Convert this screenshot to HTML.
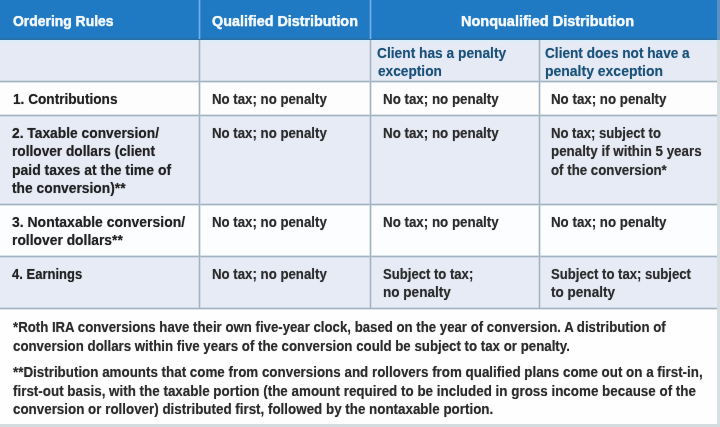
<!DOCTYPE html>
<html><head><meta charset="utf-8">
<style>
*{margin:0;padding:0;box-sizing:border-box}
html,body{width:720px;height:427px;overflow:hidden;background:#fff}
body{position:relative;font-family:"Liberation Sans",Arial,sans-serif}
.bg{position:absolute}
.t{position:absolute;white-space:nowrap;line-height:20px;height:20px;font-weight:bold;transform-origin:0 0}
.h{font-size:14.5px;color:#f4f9fe;-webkit-text-stroke:.25px #f4f9fe;text-shadow:0 0 1px rgba(235,245,255,.7);}
.s{font-size:14.3px;color:#1a5279;text-shadow:0 0 1px rgba(26,82,121,.45);}
.l{font-size:14.2px;color:#222;text-shadow:0 0 1px rgba(34,34,34,.55);}
.d{font-size:14.3px;color:#2c2c2c;text-shadow:0 0 1px rgba(44,44,44,.5);}
.f{font-size:14.3px;color:#2c2c2c;text-shadow:0 0 1px rgba(44,44,44,.5);}
.hl{position:absolute;left:0;width:717px;height:1px;background:#a2b3c0;box-shadow:0 -1px 0 rgba(185,200,212,.5),0 1px 0 rgba(185,200,212,.5)}
.vl{position:absolute;top:40px;width:1px;height:268px;background:#a2b3c0;box-shadow:-1px 0 0 rgba(185,200,212,.45),1px 0 0 rgba(185,200,212,.45)}
</style></head><body>
<div class="bg" style="left:0;top:0;width:720px;height:40px;background:#1f79c3"></div>
<div class="bg" style="left:0;top:40px;width:720px;height:42px;background:#e6eaf5"></div>
<div class="bg" style="left:0;top:82px;width:720px;height:34px;background:#fdfdfe"></div>
<div class="bg" style="left:0;top:116px;width:720px;height:89px;background:#e7ebf6"></div>
<div class="bg" style="left:0;top:205px;width:720px;height:52px;background:#fbfdfe"></div>
<div class="bg" style="left:0;top:257px;width:720px;height:52px;background:#e7ebf6"></div>
<div class="bg" style="left:0;top:309px;width:720px;height:118px;background:#fefefe"></div>
<div class="bg" style="left:0;top:38px;width:717px;height:2px;background:#2870aa"></div>
<div class="bg" style="left:0;top:40px;width:717px;height:2px;background:#d9eef8"></div>
<div class="hl" style="top:81px"></div>
<div class="hl" style="top:115px"></div>
<div class="hl" style="top:204px"></div>
<div class="hl" style="top:256px"></div>
<div class="hl" style="top:308px"></div>
<div class="bg" style="left:199px;top:0;width:1px;height:39px;background:#6eb0e8;box-shadow:-1px 0 0 rgba(80,150,215,.6),1px 0 0 rgba(80,150,215,.6)"></div>
<div class="bg" style="left:370px;top:0;width:1px;height:39px;background:#6eb0e8;box-shadow:-1px 0 0 rgba(80,150,215,.6),1px 0 0 rgba(80,150,215,.6)"></div>
<div class="vl" style="left:199px"></div>
<div class="vl" style="left:370px"></div>
<div class="vl" style="left:539px"></div>
<div class="bg" style="left:717px;top:0;width:3px;height:40px;background:#5a90c4"></div>
<div class="bg" style="left:717px;top:40px;width:3px;height:387px;background:#d8dfe2"></div>
<div class="bg" style="left:0;top:424px;width:720px;height:3px;background:#d5dcdf"></div>

<div class="t h" style="left:12.50px;top:11px;transform:scaleX(0.9594)">Ordering Rules</div>
<div class="t h" style="left:211.80px;top:11px;transform:scaleX(0.9897)">Qualified Distribution</div>
<div class="t h" style="left:461.00px;top:11px;transform:scaleX(0.9990)">Nonqualified Distribution</div>
<div class="t s" style="left:377.30px;top:43px;transform:scaleX(0.9620)">Client has a penalty</div>
<div class="t s" style="left:377.60px;top:61px;transform:scaleX(0.9573)">exception</div>
<div class="t s" style="left:545.20px;top:43px;transform:scaleX(0.9535)">Client does not have a</div>
<div class="t s" style="left:545.20px;top:61px;transform:scaleX(0.9777)">penalty exception</div>
<div class="t l" style="left:13.30px;top:89px;transform:scaleX(0.9609)">1. Contributions</div>
<div class="t d" style="left:211.80px;top:89px;transform:scaleX(0.9262)">No tax; no penalty</div>
<div class="t d" style="left:383.00px;top:89px;transform:scaleX(0.9334)">No tax; no penalty</div>
<div class="t d" style="left:551.00px;top:89px;transform:scaleX(0.9318)">No tax; no penalty</div>
<div class="t l" style="left:12.40px;top:123px;transform:scaleX(0.9725)">2. Taxable conversion/</div>
<div class="t l" style="left:12.40px;top:141px;transform:scaleX(0.9646)">rollover dollars (client</div>
<div class="t l" style="left:12.40px;top:160px;transform:scaleX(0.9846)">paid taxes at the time of</div>
<div class="t l" style="left:12.40px;top:178px;transform:scaleX(0.9728)">the conversion)**</div>
<div class="t d" style="left:211.80px;top:123px;transform:scaleX(0.9262)">No tax; no penalty</div>
<div class="t d" style="left:383.00px;top:123px;transform:scaleX(0.9334)">No tax; no penalty</div>
<div class="t d" style="left:551.00px;top:123px;transform:scaleX(0.9168)">No tax; subject to</div>
<div class="t d" style="left:551.00px;top:141px;transform:scaleX(0.9336)">penalty if within 5 years</div>
<div class="t d" style="left:551.00px;top:160px;transform:scaleX(0.9282)">of the conversion*</div>
<div class="t l" style="left:12.40px;top:212px;transform:scaleX(0.9848)">3. Nontaxable conversion/</div>
<div class="t l" style="left:12.40px;top:230px;transform:scaleX(0.9759)">rollover dollars**</div>
<div class="t d" style="left:211.80px;top:212px;transform:scaleX(0.9262)">No tax; no penalty</div>
<div class="t d" style="left:383.00px;top:212px;transform:scaleX(0.9334)">No tax; no penalty</div>
<div class="t d" style="left:551.00px;top:212px;transform:scaleX(0.9318)">No tax; no penalty</div>
<div class="t l" style="left:12.30px;top:264px;transform:scaleX(0.9170)">4. Earnings</div>
<div class="t d" style="left:211.80px;top:264px;transform:scaleX(0.9262)">No tax; no penalty</div>
<div class="t d" style="left:383.00px;top:264px;transform:scaleX(0.9165)">Subject to tax;</div>
<div class="t d" style="left:383.00px;top:282px;transform:scaleX(0.9481)">no penalty</div>
<div class="t d" style="left:551.00px;top:264px;transform:scaleX(0.9176)">Subject to tax; subject</div>
<div class="t d" style="left:551.00px;top:282px;transform:scaleX(0.9476)">to penalty</div>
<div class="t f" style="left:13.00px;top:317px;transform:scaleX(0.9241)">*Roth IRA conversions have their own five-year clock, based on the year of conversion. A distribution of</div>
<div class="t f" style="left:13.00px;top:336px;transform:scaleX(0.9288)">conversion dollars within five years of the conversion could be subject to tax or penalty.</div>
<div class="t f" style="left:12.70px;top:362px;transform:scaleX(0.9355)">**Distribution amounts that come from conversions and rollovers from qualified plans come out on a first-in,</div>
<div class="t f" style="left:12.70px;top:381px;transform:scaleX(0.9376)">first-out basis, with the taxable portion (the amount required to be included in gross income because of the</div>
<div class="t f" style="left:12.70px;top:399px;transform:scaleX(0.9358)">conversion or rollover) distributed first, followed by the nontaxable portion.</div>
</body></html>
